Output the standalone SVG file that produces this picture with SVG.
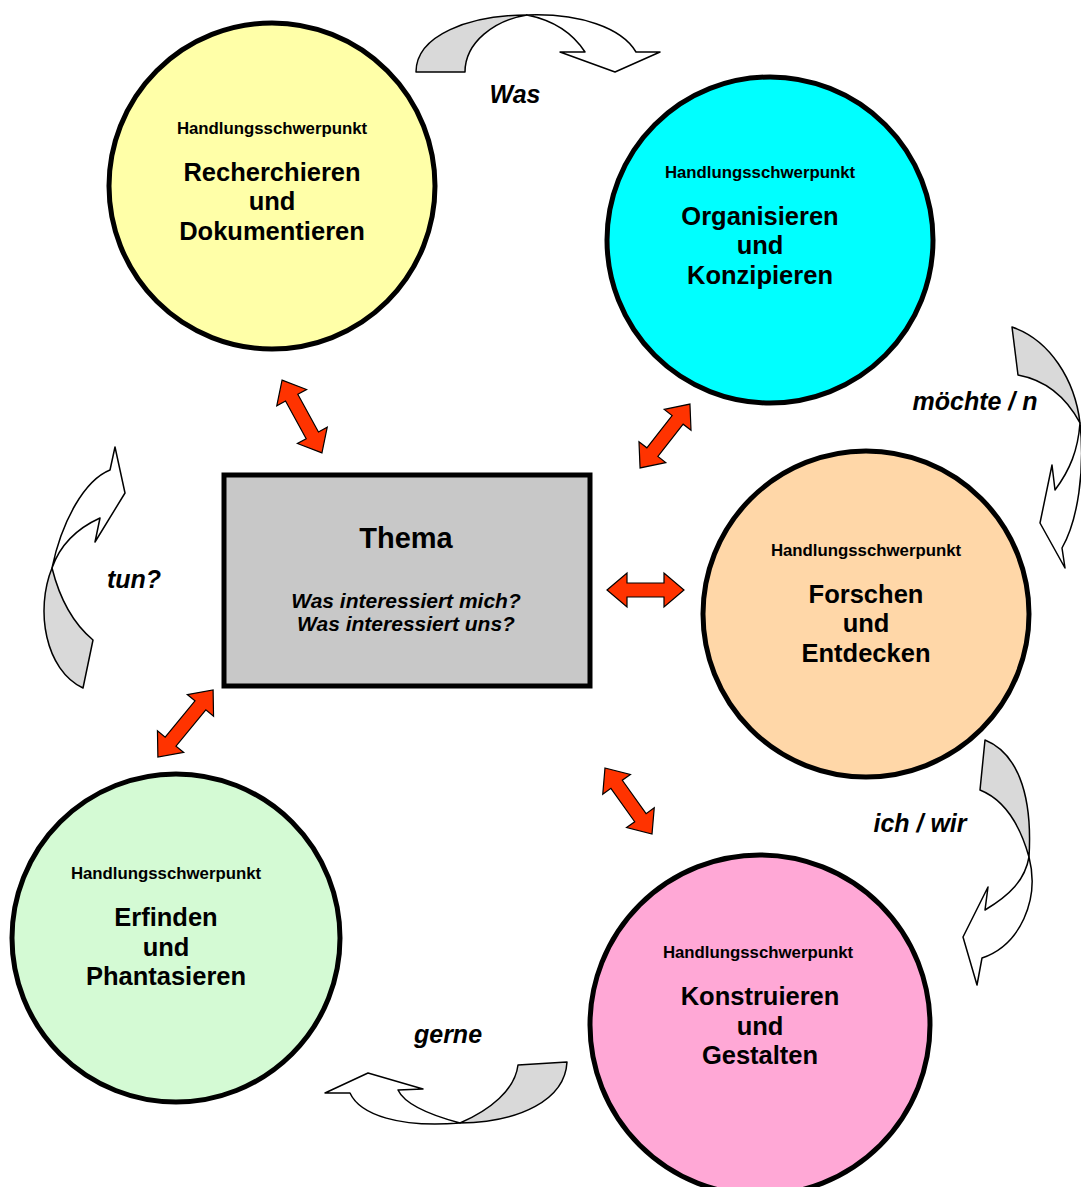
<svg xmlns="http://www.w3.org/2000/svg" width="1081" height="1187" viewBox="0 0 1081 1187">
<defs>
<style>
.c{stroke:#000;stroke-width:5}
.h{font-family:"Liberation Sans",Arial,sans-serif;font-weight:bold;font-size:16.8px;text-anchor:middle;fill:#000}
.t{font-family:"Liberation Sans",Arial,sans-serif;font-weight:bold;font-size:25.5px;text-anchor:middle;fill:#000}
.l{font-family:"Liberation Sans",Arial,sans-serif;font-weight:bold;font-style:italic;font-size:25px;text-anchor:middle;fill:#000}
.g{fill:#d9d9d9;stroke:#000;stroke-width:1.5;stroke-linejoin:round}
.w{fill:#fff;stroke:#000;stroke-width:1.5;stroke-linejoin:round}
.r{fill:#ff3300;stroke:#000;stroke-width:1.2;stroke-linejoin:miter}
</style>
</defs>
<rect width="1081" height="1187" fill="#fff"/>

<g id="connectors">
<g id="curve-was">
<path class="g" d="M416,72 C416,35 470,15 527,15 C495,20 465,42 465,72 Z"/>
<path class="w" d="M527,15 C580,13 622,28 636,52 L660,52 L615,72 L560,52 L585,52 C572,32 552,20 527,15 Z"/>
</g>
<g id="curve-moechte">
<path class="g" d="M1012,327 C1050,340 1075,380 1080,423 C1065,395 1045,380 1018,375 Z"/>
<path class="w" d="M1080,423 C1085,470 1078,520 1062,548 L1065,568 L1040,523 L1052,465 L1055,490 C1070,470 1078,450 1080,423 Z"/>
</g>
<g id="curve-ich">
<path class="g" d="M985,740 C1015,752 1033,790 1029,857 C1020,825 1005,800 980,790 Z"/>
<path class="w" d="M1029,857 C1040,900 1020,945 982,958 L977,985 L963,937 L988,887 L985,910 C1010,895 1025,880 1029,857 Z"/>
</g>
<g id="curve-gerne">
<path class="g" d="M567,1062 C565,1100 520,1122 460,1123 C490,1110 515,1090 518,1065 Z"/>
<path class="w" d="M460,1123 C430,1115 405,1105 398,1090 L423,1089 L368,1073 L325,1093 L350,1093 C360,1115 400,1128 460,1123 Z"/>
</g>
<g id="curve-tun">
<path class="g" d="M83,688 C45,670 35,610 52,568 C60,600 75,625 93,640 Z"/>
<path class="w" d="M52,568 C62,520 85,480 110,470 L115,447 L125,493 L95,542 L100,518 C78,528 60,545 52,568 Z"/>
</g>
<g id="double-arrows">
<path class="r" transform="translate(302,416.5) rotate(61.3)" d="M-41.5,0 L-21.5,-17 L-21.5,-7 L21.5,-7 L21.5,-17 L41.5,0 L21.5,17 L21.5,7 L-21.5,7 L-21.5,17 Z"/>
<path class="r" transform="translate(665,436) rotate(-52)" d="M-40.5,0 L-20.5,-17 L-20.5,-7 L20.5,-7 L20.5,-17 L40.5,0 L20.5,17 L20.5,7 L-20.5,7 L-20.5,17 Z"/>
<path class="r" transform="translate(645.5,590)" d="M-38.5,0 L-18.5,-17 L-18.5,-7 L18.5,-7 L18.5,-17 L38.5,0 L18.5,17 L18.5,7 L-18.5,7 L-18.5,17 Z"/>
<path class="r" transform="translate(628.5,801) rotate(54.5)" d="M-40.5,0 L-20.5,-17 L-20.5,-7 L20.5,-7 L20.5,-17 L40.5,0 L20.5,17 L20.5,7 L-20.5,7 L-20.5,17 Z"/>
<path class="r" transform="translate(185.5,723.5) rotate(-50.6)" d="M-43.5,0 L-23.5,-17 L-23.5,-7 L23.5,-7 L23.5,-17 L43.5,0 L23.5,17 L23.5,7 L-23.5,7 L-23.5,17 Z"/>
</g>
</g>

<g id="labels">
<text class="l" x="515" y="103">Was</text>
<text class="l" x="975" y="410">möchte / n</text>
<text class="l" x="134" y="588">tun?</text>
<text class="l" x="920" y="832">ich / wir</text>
<text class="l" x="448" y="1043">gerne</text>
</g>

<g id="node-recherchieren">
<circle class="c" cx="272" cy="186" r="163" fill="#ffffa8"/>
<text class="h" x="272" y="134">Handlungsschwerpunkt</text>
<text class="t" x="272" y="181">Recherchieren</text>
<text class="t" x="272" y="210">und</text>
<text class="t" x="272" y="240">Dokumentieren</text>
</g>

<g id="node-organisieren">
<circle class="c" cx="770" cy="240" r="163" fill="#00ffff"/>
<text class="h" x="760" y="178">Handlungsschwerpunkt</text>
<text class="t" x="760" y="225">Organisieren</text>
<text class="t" x="760" y="254">und</text>
<text class="t" x="760" y="284">Konzipieren</text>
</g>

<g id="node-forschen">
<circle class="c" cx="866" cy="614" r="163" fill="#ffd7a8"/>
<text class="h" x="866" y="556">Handlungsschwerpunkt</text>
<text class="t" x="866" y="603">Forschen</text>
<text class="t" x="866" y="632">und</text>
<text class="t" x="866" y="662">Entdecken</text>
</g>

<g id="node-konstruieren">
<circle class="c" cx="760" cy="1025" r="170" fill="#ffa8d6"/>
<text class="h" x="758" y="958">Handlungsschwerpunkt</text>
<text class="t" x="760" y="1005">Konstruieren</text>
<text class="t" x="760" y="1035">und</text>
<text class="t" x="760" y="1064">Gestalten</text>
</g>

<g id="node-erfinden">
<circle class="c" cx="176" cy="938" r="164" fill="#d4fad4"/>
<text class="h" x="166" y="879">Handlungsschwerpunkt</text>
<text class="t" x="166" y="926">Erfinden</text>
<text class="t" x="166" y="956">und</text>
<text class="t" x="166" y="985">Phantasieren</text>
</g>

<g id="node-thema">
<rect class="c" x="224" y="475" width="366" height="211" fill="#c8c8c8"/>
<text class="t" x="406" y="548" style="font-size:29px">Thema</text>
<text class="l" x="406" y="608" style="font-size:21px">Was interessiert mich?</text>
<text class="l" x="406" y="631" style="font-size:21px">Was interessiert uns?</text>
</g>
</svg>
